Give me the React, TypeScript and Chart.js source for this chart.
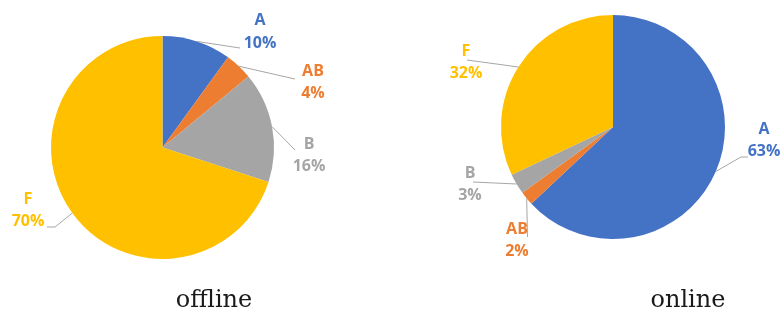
import React, { useEffect, useRef } from "react";
import { Chart, registerables } from "chart.js";

Chart.register(...registerables);

const categories = ["A", "AB", "B", "F"];
const offlineValues = [10, 4, 16, 70];
const onlineValues = [63, 2, 3, 32];
const sliceColors = ["#4472C4", "#ED7D31", "#A5A5A5", "#FFC000"];
const captions = ["offline", "online"];

const calloutPlugin = {
  id: "callouts",
  afterDraw(chart: any, _args: any, opts: any) {
    const ctx = chart.ctx;
    const meta = chart.getDatasetMeta(0);
    const ds = chart.data.datasets[0];
    ctx.save();
    meta.data.forEach((arc: any, i: number) => {
      const p = arc.getProps(["x", "y", "startAngle", "endAngle", "outerRadius"], true);
      const mid = (p.startAngle + p.endAngle) / 2;
      const sx = p.x + Math.cos(mid) * p.outerRadius;
      const sy = p.y + Math.sin(mid) * p.outerRadius;
      ctx.strokeStyle = "#A6A6A6";
      ctx.lineWidth = 1;
      ctx.beginPath();
      ctx.moveTo(sx, sy);
      (opts.lines[i] || []).forEach((pt: number[]) => ctx.lineTo(pt[0], pt[1]));
      ctx.stroke();
      const [lx, ly] = opts.labels[i];
      ctx.fillStyle = ds.backgroundColor[i];
      ctx.font = "bold 16px 'Open Sans', sans-serif";
      ctx.textAlign = "center";
      ctx.textBaseline = "middle";
      ctx.fillText(String(chart.data.labels[i]), lx, ly);
      ctx.fillText(ds.data[i] + "%", lx, ly + 22.5);
    });
    ctx.fillStyle = "#1a1a1a";
    ctx.font = "24px 'DejaVu Serif', serif";
    ctx.textAlign = "center";
    ctx.textBaseline = "alphabetic";
    ctx.fillText(opts.caption.text, opts.caption.x, opts.caption.y);
    ctx.restore();
  },
};

function PieChart(props: { values: number[]; padding: any; callouts: any; left: number }) {
  const ref = useRef<HTMLCanvasElement>(null);
  useEffect(() => {
    if (!ref.current) return;
    const chart = new Chart(ref.current, {
      type: "pie",
      data: {
        labels: categories,
        datasets: [
          {
            data: props.values,
            backgroundColor: sliceColors,
            borderWidth: 0,
          },
        ],
      },
      options: {
        responsive: false,
        animation: false,
        layout: { padding: props.padding },
        plugins: {
          legend: { display: false },
          tooltip: { enabled: false },
          callouts: props.callouts,
        } as any,
      },
      plugins: [calloutPlugin as any],
    });
    return () => chart.destroy();
  }, []);
  return (
    <canvas
      ref={ref}
      width={391}
      height={314}
      style={{ position: "absolute", left: props.left, top: 0, width: 391, height: 314 }}
    />
  );
}

export default function App() {
  return (
    <div style={{ position: "absolute", left: 0, top: 0, width: 782, height: 314, background: "#ffffff" }}>
      <PieChart
        left={0}
        values={offlineValues}
        padding={{ left: 51, right: 117, top: 36, bottom: 55 }}
        callouts={{
          labels: [
            [260, 20.5],
            [313, 71],
            [309, 144],
            [28, 199],
          ],
          lines: [
            [[240, 48]],
            [[295, 79]],
            [[295, 150]],
            [[55, 227], [47, 227]],
          ],
          caption: { text: captions[0], x: 214, y: 307 },
        }}
      />
      <PieChart
        left={391}
        values={onlineValues}
        padding={{ left: 110, right: 57, top: 15, bottom: 75 }}
        callouts={{
          labels: [
            [373, 129],
            [126, 229],
            [79, 173],
            [75, 51],
          ],
          lines: [
            [[350, 157], [357, 157]],
            [[136.5, 237]],
            [[82, 182]],
            [[76, 60]],
          ],
          caption: { text: captions[1], x: 297, y: 307 },
        }}
      />
    </div>
  );
}
